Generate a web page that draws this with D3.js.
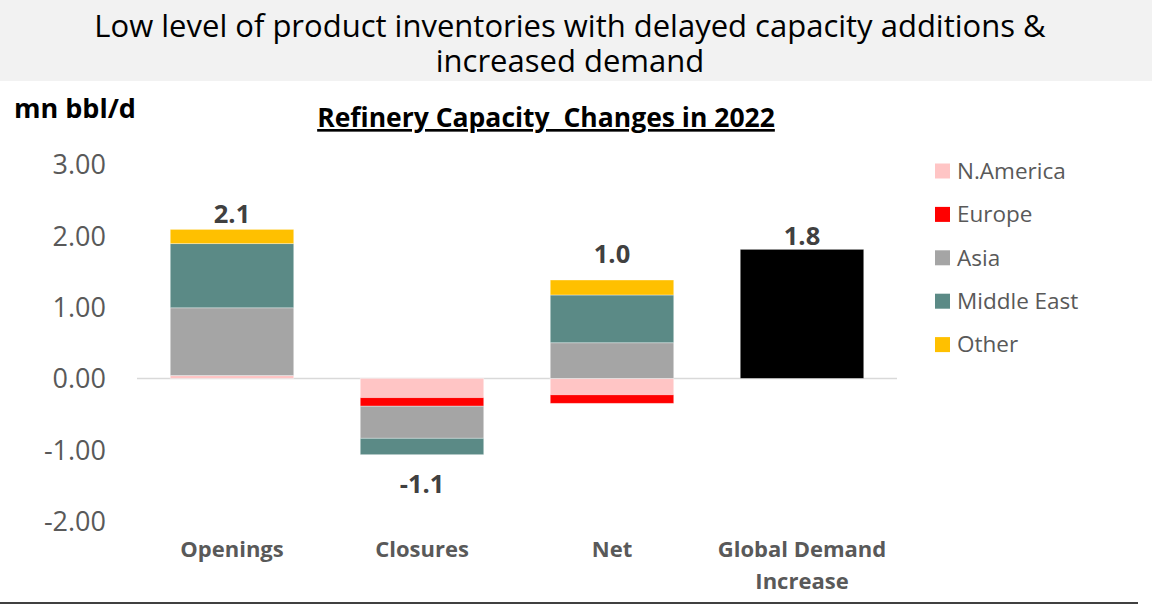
<!DOCTYPE html>
<html>
<head>
<meta charset="utf-8">
<script src="https://cdn.jsdelivr.net/npm/d3@7/dist/d3.min.js"></script>
<style>
  html, body { margin: 0; padding: 0; background: #fff; }
  svg { display: block; font-family: "Open Sans", "Noto Sans", sans-serif; }
</style>
</head>
<body>
<svg id="chart" width="1154" height="606"></svg>
<script>
// Refinery capacity changes in 2022, mn bbl/d
const categories = ["Openings", "Closures", "Net", "Global Demand Increase"];
const categoryLines = [["Openings"], ["Closures"], ["Net"], ["Global Demand", "Increase"]];

const seriesNames = ["N.America", "Europe", "Asia", "Middle East", "Other", "Global Demand"];
const nAmericaValues   = [0.04, -0.27, -0.23, 0];
const europeValues     = [0.00, -0.12, -0.12, 0];
const asiaValues       = [0.95, -0.45,  0.50, 0];
const middleEastValues = [0.90, -0.23,  0.67, 0];
const otherValues      = [0.20,  0.00,  0.21, 0];
const demandValues     = [0, 0, 0, 1.81];

const seriesColors = ["#ffc5c5", "#ff0000", "#a5a5a5", "#5b8a86", "#ffc000", "#000000"];
const legendNames = ["N.America", "Europe", "Asia", "Middle East", "Other"];
const yTicks = [-2, -1, 0, 1, 2, 3];

const seriesValues = [nAmericaValues, europeValues, asiaValues, middleEastValues, otherValues, demandValues];
const rows = categories.map((c, i) => {
  const r = { category: c };
  seriesNames.forEach((s, k) => { r[s] = seriesValues[k][i]; });
  return r;
});
const totals = categories.map((c, i) => d3.sum(seriesValues, v => v[i]));

// Plain hyphen for negative numbers
const locale = d3.formatLocale({ decimal: ".", thousands: ",", grouping: [3], currency: ["$", ""], minus: "-" });
const fmtTick = locale.format(".2f");
const fmtTotal = locale.format(".1f");

const svg = d3.select("#chart");

// Header band with a two-line heading
svg.append("rect").attr("x", 0).attr("y", 0).attr("width", 1152).attr("height", 81).attr("fill", "#f2f2f2");
const titleLines = ["Low level of product inventories with delayed capacity additions &", "increased demand"];
svg.append("text")
  .attr("x", 570).attr("y", 37)
  .attr("text-anchor", "middle")
  .attr("font-size", 31).attr("fill", "#000")
  .selectAll("tspan").data(titleLines).join("tspan")
  .attr("x", 570).attr("dy", (d, i) => i === 0 ? 0 : 35)
  .text(d => d);

svg.append("text").attr("x", 14).attr("y", 118)
  .attr("font-size", 27).attr("font-weight", 700).attr("fill", "#000")
  .text("mn bbl/d");

svg.append("text").attr("x", 546).attr("y", 127)
  .attr("text-anchor", "middle").attr("font-size", 26.5).attr("font-weight", 700)
  .attr("fill", "#000").attr("text-decoration", "underline")
  .style("white-space", "pre")
  .text("Refinery Capacity  Changes in 2022");

// Scales
const x = d3.scaleBand().domain(categories).range([137, 897]).paddingInner(0.35).paddingOuter(0.175);
const y = d3.scaleLinear().domain([-2, 3]).range([521, 164.5]);

// Y axis labels only
const yAxis = d3.axisLeft(y).tickValues(yTicks).tickFormat(fmtTick).tickSize(0).tickPadding(0);
const yg = svg.append("g").attr("transform", "translate(106,0)").call(yAxis);
yg.select(".domain").remove();
yg.selectAll("text").attr("font-size", 27).attr("fill", "#595959")
  .attr("font-family", "'Open Sans', sans-serif").attr("dy", "0.35em");

// Zero line
svg.append("line").attr("x1", 137).attr("x2", 897).attr("y1", y(0)).attr("y2", y(0))
  .attr("stroke", "#d9d9d9").attr("stroke-width", 1.5);

// Stacked bars
const stack = d3.stack().keys(seriesNames).offset(d3.stackOffsetDiverging);
const layers = stack(rows);
svg.append("g").selectAll("g").data(layers).join("g")
  .attr("fill", (d, i) => seriesColors[i])
  .selectAll("rect").data(d => d.filter(p => p[1] !== p[0])).join("rect")
  .attr("x", d => x(d.data.category))
  .attr("width", x.bandwidth())
  .attr("y", d => y(Math.max(d[0], d[1])))
  .attr("height", d => Math.abs(y(d[0]) - y(d[1])))
  .attr("stroke", "#ffffff").attr("stroke-opacity", 0.45).attr("stroke-width", 0.8);

// Total labels
const labelGap = [6, 38, 17, 4];
const posTop = categories.map((c, i) => d3.sum(seriesValues, v => Math.max(v[i], 0)));
const negBottom = categories.map((c, i) => d3.sum(seriesValues, v => Math.min(v[i], 0)));
svg.append("g").selectAll("text").data(categories).join("text")
  .attr("x", d => x(d) + x.bandwidth() / 2)
  .attr("y", (d, i) => totals[i] >= 0 ? y(posTop[i]) - labelGap[i] : y(negBottom[i]) + labelGap[i])
  .attr("text-anchor", "middle").attr("font-size", 25.5).attr("font-weight", 700).attr("fill", "#404040")
  .text((d, i) => fmtTotal(totals[i]));

// Category labels
const cg = svg.append("g").selectAll("text").data(categories).join("text")
  .attr("x", d => x(d) + x.bandwidth() / 2).attr("y", 557)
  .attr("text-anchor", "middle").attr("font-size", 22).attr("font-weight", 700).attr("fill", "#595959");
cg.selectAll("tspan").data((d, i) => categoryLines[i]).join("tspan")
  .attr("x", function () { return d3.select(this.parentNode).attr("x"); })
  .attr("dy", (d, i) => i === 0 ? 0 : 32)
  .text(d => d);

// Legend
const lg = svg.append("g").selectAll("g").data(legendNames).join("g")
  .attr("transform", (d, i) => `translate(935, ${171 + i * 43.4})`);
lg.append("rect").attr("x", 0).attr("y", -7.5).attr("width", 15).attr("height", 15)
  .attr("fill", (d, i) => seriesColors[i]);
lg.append("text").attr("x", 22).attr("dy", "0.35em")
  .attr("font-size", 22.5).attr("fill", "#595959").text(d => d);

// Bottom rule
svg.append("line").attr("x1", 0).attr("x2", 1138).attr("y1", 603).attr("y2", 603)
  .attr("stroke", "#404040").attr("stroke-width", 2);
</script>
</body>
</html>
